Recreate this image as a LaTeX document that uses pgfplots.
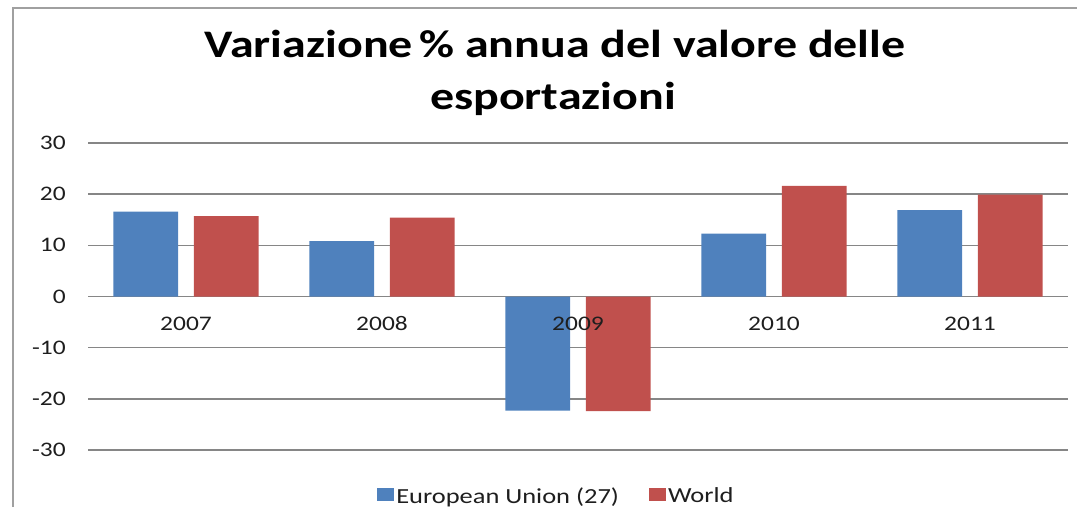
\documentclass[border=0pt]{standalone}
\usepackage{fontspec}
\setmainfont{Carlito}[FakeStretch=1.23]
\usepackage{pgfplots}
\pgfplotsset{compat=1.18}

\definecolor{euBlue}{RGB}{79,129,189}
\definecolor{worldRed}{RGB}{192,80,77}
\definecolor{gridGray}{RGB}{134,134,134}
\definecolor{frameGray}{RGB}{160,160,160}
\definecolor{labelGray}{RGB}{30,30,30}

\tikzset{yearlabel/.style={anchor=base, inner sep=0pt,
  font=\fontsize{20.7}{22}\selectfont, text=labelGray}}

\begin{document}
\begin{tikzpicture}
\path[use as bounding box] (0pt,0pt) rectangle (1077pt,507pt);
\draw[frameGray, line width=1.5pt] (13pt,0pt) -- (13pt,499pt) -- (1077pt,499pt);

% title
\node[anchor=base, inner sep=0pt, font=\fontsize{39}{44}\selectfont\bfseries] at (555pt,449pt)
  {Variazione\,\% annua del valore delle};
\node[anchor=base, inner sep=0pt, font=\fontsize{39}{44}\selectfont\bfseries] at (553pt,397pt)
  {esportazioni};

\begin{axis}[
  at={(88pt,57pt)}, anchor=south west,
  scale only axis, width=980pt, height=307pt,
  xmin=-0.5, xmax=4.5, ymin=-30, ymax=30,
  axis line style={draw=none},
  major tick length=0pt,
  xtick={0,...,4},
  xticklabels={},
  ytick={-30,-20,...,30},
  yticklabels={-30,-20,-10,0,10,20,30},
  yticklabel style={anchor=east, inner sep=0pt, xshift=-22pt,
    font=\fontsize{20.7}{22}\selectfont, text=labelGray},
  ymajorgrids,
  grid style={gridGray, line width=1.5pt},
  ybar, bar width=0.33,
  legend style={at={(0.478,-0.15)}, anchor=center, legend columns=2,
    draw=none, fill=none, font=\fontsize{21.5}{24}\selectfont, text=labelGray,
    /tikz/every even column/.append style={column sep=28pt}},
]

% European Union (27)
\addplot[fill=euBlue, draw=none, bar shift=-0.205,
  legend image code/.code={\fill[euBlue] (-4pt,-5pt) rectangle (13pt,8pt);}]
  coordinates {(0,16.6) (1,10.8) (2,-22.3) (3,12.3) (4,16.9)};
\addlegendentry{European Union (27)}

% World
\addplot[fill=worldRed, draw=none, bar shift=0.205,
  legend image code/.code={\fill[worldRed] (-4pt,-5pt) rectangle (13pt,8pt);}]
  coordinates {(0,15.7) (1,15.4) (2,-22.4) (3,21.6) (4,19.9)};
\addlegendentry{World}

% year labels under the zero line, drawn after the bars
\node[yearlabel] at (axis cs:0,-6.65) {2007};
\node[yearlabel] at (axis cs:1,-6.65) {2008};
\node[yearlabel] at (axis cs:2,-6.65) {2009};
\node[yearlabel] at (axis cs:3,-6.65) {2010};
\node[yearlabel] at (axis cs:4,-6.65) {2011};

\end{axis}
\end{tikzpicture}
\end{document}
